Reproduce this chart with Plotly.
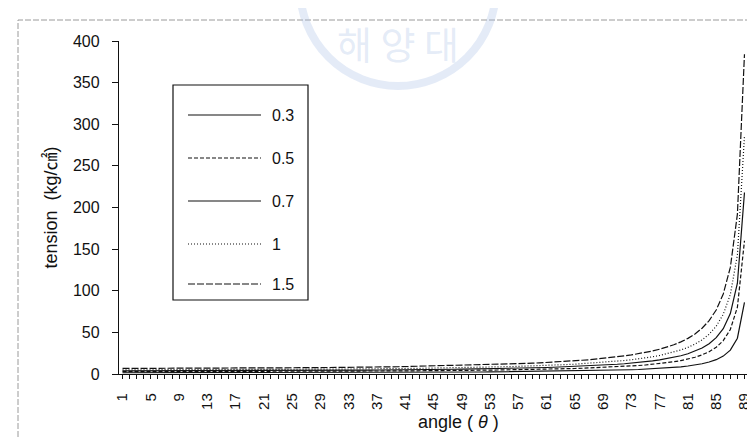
import plotly.graph_objects as go

# ---------------- data ----------------
angles = list(range(1, 90))
x_tick_labels = [str(a) for a in range(1, 90, 4)]
y_ticks = [0, 50, 100, 150, 200, 250, 300, 350, 400]

t_03 = [1.5, 1.5, 1.5, 1.5, 1.5, 1.5, 1.5, 1.5, 1.5, 1.5,
        1.5, 1.5, 1.5, 1.5, 1.6, 1.6, 1.6, 1.6, 1.6, 1.6,
        1.6, 1.6, 1.6, 1.6, 1.7, 1.7, 1.7, 1.7, 1.7, 1.7,
        1.8, 1.8, 1.8, 1.8, 1.8, 1.9, 1.9, 1.9, 1.9, 2.0,
        2.0, 2.0, 2.1, 2.1, 2.1, 2.2, 2.2, 2.2, 2.3, 2.3,
        2.4, 2.4, 2.5, 2.6, 2.6, 2.7, 2.8, 2.8, 2.9, 3.0,
        3.1, 3.2, 3.3, 3.4, 3.5, 3.7, 3.8, 4.0, 4.2, 4.4,
        4.6, 4.9, 5.1, 5.4, 5.8, 6.2, 6.7, 7.2, 7.9, 8.6,
        9.6, 10.8, 12.3, 14.4, 17.2, 21.5, 28.7, 43.0, 86.0]

t_05 = [2.8, 2.8, 2.8, 2.8, 2.8, 2.8, 2.8, 2.8, 2.8, 2.8,
        2.9, 2.9, 2.9, 2.9, 2.9, 2.9, 2.9, 2.9, 3.0, 3.0,
        3.0, 3.0, 3.0, 3.1, 3.1, 3.1, 3.1, 3.2, 3.2, 3.2,
        3.3, 3.3, 3.3, 3.4, 3.4, 3.5, 3.5, 3.6, 3.6, 3.7,
        3.7, 3.8, 3.8, 3.9, 4.0, 4.0, 4.1, 4.2, 4.3, 4.4,
        4.4, 4.5, 4.7, 4.8, 4.9, 5.0, 5.1, 5.3, 5.4, 5.6,
        5.8, 6.0, 6.2, 6.4, 6.6, 6.9, 7.2, 7.5, 7.8, 8.2,
        8.6, 9.1, 9.6, 10.2, 10.8, 11.6, 12.4, 13.5, 14.7, 16.1,
        17.9, 20.1, 23.0, 26.8, 32.1, 40.1, 53.5, 80.2, 160.0]

t_07 = [3.8, 3.8, 3.8, 3.8, 3.8, 3.8, 3.8, 3.8, 3.8, 3.9,
        3.9, 3.9, 3.9, 3.9, 3.9, 4.0, 4.0, 4.0, 4.0, 4.0,
        4.1, 4.1, 4.1, 4.2, 4.2, 4.2, 4.3, 4.3, 4.3, 4.4,
        4.4, 4.5, 4.5, 4.6, 4.6, 4.7, 4.8, 4.8, 4.9, 5.0,
        5.0, 5.1, 5.2, 5.3, 5.4, 5.5, 5.6, 5.7, 5.8, 5.9,
        6.0, 6.2, 6.3, 6.5, 6.6, 6.8, 7.0, 7.2, 7.4, 7.6,
        7.8, 8.1, 8.4, 8.7, 9.0, 9.3, 9.7, 10.1, 10.6, 11.1,
        11.7, 12.3, 13.0, 13.8, 14.7, 15.7, 16.9, 18.3, 19.9, 21.9,
        24.3, 27.3, 31.2, 36.4, 43.6, 54.5, 72.6, 109.0, 218.0]

t_10 = [5.0, 5.0, 5.0, 5.0, 5.0, 5.0, 5.0, 5.1, 5.1, 5.1,
        5.1, 5.1, 5.1, 5.2, 5.2, 5.2, 5.2, 5.3, 5.3, 5.3,
        5.4, 5.4, 5.4, 5.5, 5.5, 5.6, 5.6, 5.7, 5.7, 5.8,
        5.8, 5.9, 6.0, 6.0, 6.1, 6.2, 6.3, 6.3, 6.4, 6.5,
        6.6, 6.7, 6.8, 7.0, 7.1, 7.2, 7.3, 7.5, 7.6, 7.8,
        7.9, 8.1, 8.3, 8.5, 8.7, 8.9, 9.2, 9.4, 9.7, 10.0,
        10.3, 10.7, 11.0, 11.4, 11.8, 12.3, 12.8, 13.3, 14.0, 14.6,
        15.4, 16.2, 17.1, 18.1, 19.3, 20.7, 22.2, 24.1, 26.2, 28.8,
        32.0, 35.9, 41.0, 47.8, 57.4, 71.7, 95.5, 143.0, 286.0]

t_15 = [6.7, 6.7, 6.7, 6.7, 6.7, 6.7, 6.8, 6.8, 6.8, 6.8,
        6.8, 6.8, 6.9, 6.9, 6.9, 7.0, 7.0, 7.0, 7.1, 7.1,
        7.2, 7.2, 7.3, 7.3, 7.4, 7.5, 7.5, 7.6, 7.7, 7.7,
        7.8, 7.9, 8.0, 8.1, 8.2, 8.3, 8.4, 8.5, 8.6, 8.7,
        8.9, 9.0, 9.2, 9.3, 9.5, 9.6, 9.8, 10.0, 10.2, 10.4,
        10.6, 10.9, 11.1, 11.4, 11.7, 12.0, 12.3, 12.6, 13.0, 13.4,
        13.8, 14.3, 14.8, 15.3, 15.9, 16.5, 17.1, 17.9, 18.7, 19.6,
        20.6, 21.7, 22.9, 24.3, 25.9, 27.7, 29.8, 32.2, 35.1, 38.6,
        42.8, 48.1, 55.0, 64.1, 76.9, 96.1, 128.0, 192.0, 384.0]

series_names = ["0.3", "0.5", "0.7", "1", "1.5"]
series_values = [t_03, t_05, t_07, t_10, t_15]
series_dash = ["solid", "4px,2px", "solid", "1px,2px", "7px,2px"]

# ---------------- layout geometry ----------------
W, H = 755, 437
L, R, T, B = 111, 15, 33, 71
PW, PH = W - L - R, H - T - B


def px(x):
    return (x - L) / PW


def py(y):
    return (H - B - y) / PH


FONT = "Liberation Sans, Arial, sans-serif"
INK = "#111111"
WM = "rgba(165,190,228,0.30)"

fig = go.Figure()
for name, vals, dash in zip(series_names, series_values, series_dash):
    fig.add_trace(go.Scatter(
        x=angles, y=vals, mode="lines", name=name,
        line=dict(color=INK, width=1.2, dash=dash),
        showlegend=False, hoverinfo="x+y+name"))

shapes = []
annotations = []

# outer chart frame (scanned, faint)
shapes.append(dict(type="rect", xref="paper", yref="paper",
                   x0=px(10), x1=px(748), y0=py(445), y1=py(12),
                   line=dict(color="#9a9a9a", width=1, dash="6px,2px"), layer="below"))

# faint watermark ring and text
shapes.append(dict(type="circle", xref="paper", yref="paper",
                   x0=px(292), x1=px(488), y0=py(78), y1=py(-118),
                   line=dict(color=WM, width=8), layer="below"))
annotations.append(dict(text="해 양 대", xref="paper", yref="paper",
                        x=px(390), y=py(34), showarrow=False,
                        font=dict(family="Noto Sans CJK KR", size=38, color=WM),
                        xanchor="center", yanchor="middle"))

# manual legend box
shapes.append(dict(type="rect", xref="paper", yref="paper",
                   x0=px(165), x1=px(300), y0=py(292), y1=py(77),
                   line=dict(color=INK, width=1.2), fillcolor="white", layer="above"))
leg_rows = [107, 150, 193, 236, 276]
for name, dash, yy in zip(series_names, series_dash, leg_rows):
    shapes.append(dict(type="line", xref="paper", yref="paper",
                       x0=px(180), x1=px(253), y0=py(yy), y1=py(yy),
                       line=dict(color=INK, width=1.2, dash=dash), layer="above"))
    annotations.append(dict(text=name, xref="paper", yref="paper",
                            x=px(262), y=py(yy), showarrow=False,
                            xanchor="left", yanchor="middle",
                            font=dict(family=FONT, size=16, color=INK)))

# x axis title
annotations.append(dict(text="angle ( <i>θ</i> )", xref="paper", yref="paper",
                        x=px(450), y=py(414), showarrow=False,
                        xanchor="center", yanchor="middle",
                        font=dict(family=FONT, size=18, color=INK)))

x_tickvals = list(range(1, 90))
x_ticktext = [str(a) if str(a) in x_tick_labels else "" for a in angles]
xr = [0.5, 89.5]
yr = [0, 400]

fig.update_layout(
    width=W, height=H,
    margin=dict(l=L, r=R, t=T, b=B, pad=0),
    paper_bgcolor="white", plot_bgcolor="white",
    font=dict(family=FONT, color=INK),
    shapes=shapes, annotations=annotations,
    xaxis=dict(range=xr, tickmode="array", tickvals=x_tickvals, ticktext=x_ticktext,
               ticks="outside", ticklen=4, tickwidth=1.2, tickcolor=INK,
               ticklabelstandoff=8,
               tickangle=-90, tickfont=dict(family=FONT, size=15, color=INK),
               showline=True, linecolor=INK, linewidth=1.4,
               showgrid=False, zeroline=False, fixedrange=True),
    xaxis2=dict(range=xr, overlaying="x", anchor="y", side="bottom",
                tickmode="array", tickvals=x_tickvals, ticks="inside",
                ticklen=4, tickwidth=1.2, tickcolor=INK, showticklabels=False,
                showline=False, showgrid=False, zeroline=False),
    yaxis=dict(range=yr, tickmode="array", tickvals=y_ticks,
               ticks="outside", ticklen=6, tickwidth=1.2, tickcolor=INK,
               ticklabelstandoff=9,
               tickfont=dict(family=FONT, size=16, color=INK),
               showline=True, linecolor=INK, linewidth=1.4,
               showgrid=False, zeroline=False,
               title=dict(text="tension  (kg/㎠)", standoff=10,
                          font=dict(family="Liberation Sans, Noto Sans CJK KR", size=18, color=INK))),
    yaxis2=dict(range=yr, overlaying="y", anchor="x", side="left",
                tickmode="array", tickvals=y_ticks, ticks="inside",
                ticklen=6, tickwidth=1.2, tickcolor=INK, showticklabels=False,
                showline=False, showgrid=False, zeroline=False),
)

fig.write_html("out.html")
